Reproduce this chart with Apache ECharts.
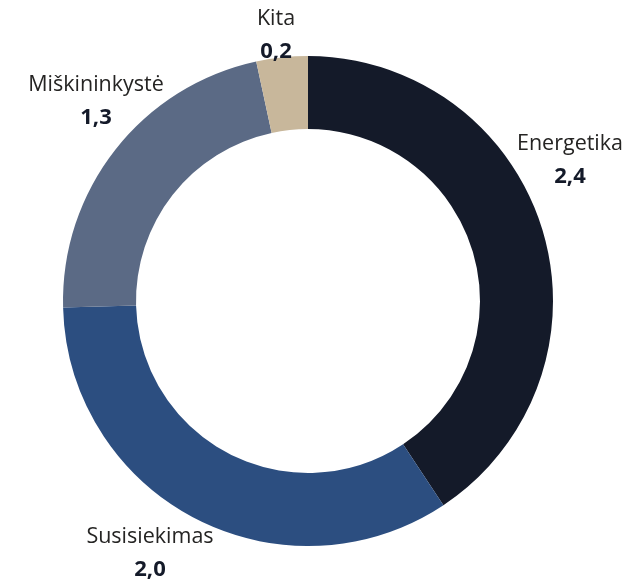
<!DOCTYPE html>
<html>
<head>
<meta charset="utf-8">
<script src="https://cdn.jsdelivr.net/npm/echarts@6/dist/echarts.min.js"></script>
<style>
  html, body { margin: 0; padding: 0; background: #fff; }
  #main { width: 641px; height: 581px; }
</style>
</head>
<body>
<div id="main"></div>
<script>
// duomenys
const categories = ['Energetika', 'Susisiekimas', 'Miškininkystė', 'Kita'];
const values = [2.4, 2.0, 1.3, 0.2];
const colors = ['#141a29', '#2c4e80', '#5b6a85', '#c8b79b'];

// etikečių vietos (centras)
const labelPos = [[570, 160], [150, 553], [96, 101], [276, 35]];

const chart = echarts.init(document.getElementById('main'), null, { renderer: 'canvas' });

const option = {
  backgroundColor: '#fff',
  animation: false,
  series: [
    {
      type: 'pie',
      center: [308, 301],
      radius: [172, 245],
      startAngle: 90,
      clockwise: true,
      avoidLabelOverlap: false,
      label: {
        show: true,
        position: 'outside',
        formatter: p => '{n|' + p.name + '}\n{v|' + p.value.toFixed(1).replace('.', ',') + '}',
        rich: {
          n: { fontFamily: 'Open Sans', fontSize: 21.5, color: '#252423', lineHeight: 33, align: 'center' },
          v: { fontFamily: 'Open Sans', fontSize: 22, fontWeight: 'bold', color: '#141a29', lineHeight: 33, align: 'center' }
        }
      },
      labelLine: { show: false },
      labelLayout: p => ({
        x: labelPos[p.dataIndex][0],
        y: labelPos[p.dataIndex][1],
        align: 'center',
        verticalAlign: 'middle'
      }),
      emphasis: { disabled: true },
      data: categories.map((c, i) => ({ name: c, value: values[i], itemStyle: { color: colors[i] } }))
    }
  ]
};

chart.setOption(option);
</script>
</body>
</html>
